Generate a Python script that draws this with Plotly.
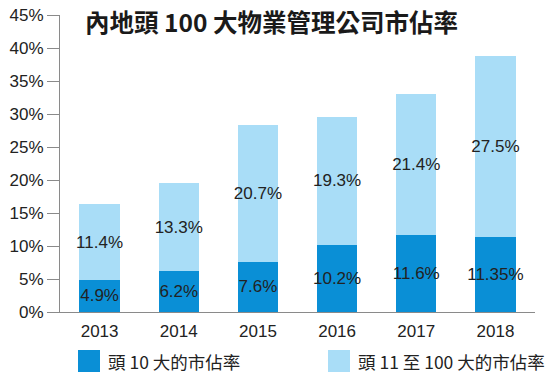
import plotly.graph_objects as go

years = ["2013", "2014", "2015", "2016", "2017", "2018"]
top10 = [4.9, 6.2, 7.6, 10.2, 11.6, 11.35]
top11_100 = [11.4, 13.3, 20.7, 19.3, 21.4, 27.5]
top10_labels = ["4.9%", "6.2%", "7.6%", "10.2%", "11.6%", "11.35%"]
top11_100_labels = ["11.4%", "13.3%", "20.7%", "19.3%", "21.4%", "27.5%"]
y_ticks = [0, 5, 10, 15, 20, 25, 30, 35, 40, 45]
y_tick_labels = [f"{v}%" for v in y_ticks]

title_text = "內地頭 100 大物業管理公司市佔率"
series_names = ["頭 10 大的市佔率", "頭 11 至 100 大的市佔率"]

DARK = "#0A8FD6"
LIGHT = "#A9DDF7"
TXT = "#222222"
FONT = "Liberation Sans, Arial, Noto Sans CJK TC, sans-serif"
CJK = "Noto Sans CJK TC, sans-serif"

W, H = 548, 377
L, R, T, B = 60, 13, 15, 65
PW, PH = W - L - R, H - T - B


def px_x(sx):
    return (sx - L) / PW


def px_y(sy):
    return (H - B - sy) / PH


fig = go.Figure()
for vals, labels, name, col in [
    (top10, top10_labels, series_names[0], DARK),
    (top11_100, top11_100_labels, series_names[1], LIGHT),
]:
    fig.add_trace(go.Bar(
        x=years, y=vals, name=name, marker=dict(color=col, line=dict(width=0)),
        text=labels, textposition="inside", insidetextanchor="middle",
        constraintext="none", cliponaxis=False,
        textfont=dict(size=17, color=TXT, family=FONT), textangle=0,
        showlegend=False,
    ))

# manual legend (large squares like the reference)
legend_items = [(series_names[0], DARK, 78), (series_names[1], LIGHT, 328)]
shapes, annotations = [], []
for name, col, x0 in legend_items:
    shapes.append(dict(type="rect", xref="paper", yref="paper",
                       x0=px_x(x0), x1=px_x(x0 + 22), y0=px_y(372), y1=px_y(350),
                       fillcolor=col, line=dict(width=0)))
    annotations.append(dict(text=name, xref="paper", yref="paper",
                            x=px_x(x0 + 28), y=px_y(361), xanchor="left", yanchor="middle",
                            showarrow=False, font=dict(family=CJK, size=17.5, color=TXT)))

fig.update_layout(
    barmode="stack",
    bargap=0.49,
    width=W, height=H,
    margin=dict(l=L, r=R, t=T, b=B, autoexpand=False),
    paper_bgcolor="white", plot_bgcolor="white",
    font=dict(family=FONT, color=TXT, size=17),
    showlegend=False,
    shapes=shapes,
    annotations=annotations,
    title=dict(
        text="<b>" + title_text + "</b>",
        font=dict(family=CJK, size=24.5, color="#1a1a1a"),
        x=85 / W, xanchor="left", xref="container",
        y=1 - 23 / H, yanchor="middle", yref="container",
    ),
    xaxis=dict(
        showline=True, linecolor="#8a8a8a", linewidth=1, ticks="",
        tickfont=dict(size=17, color=TXT, family=FONT), showgrid=False,
        tickangle=0, ticklabelstandoff=4,
    ),
    yaxis=dict(
        range=[0, 45], tickvals=y_ticks, ticktext=y_tick_labels,
        showline=True, linecolor="#8a8a8a", linewidth=1,
        ticks="outside", ticklen=12, tickcolor="#8a8a8a",
        showgrid=False, zeroline=False, ticklabeloverflow="allow",
        tickfont=dict(size=17, color=TXT, family=FONT),
    ),
)

fig.write_html("out.html", config={"displayModeBar": False},
               post_script="document.body.style.margin='0';")
